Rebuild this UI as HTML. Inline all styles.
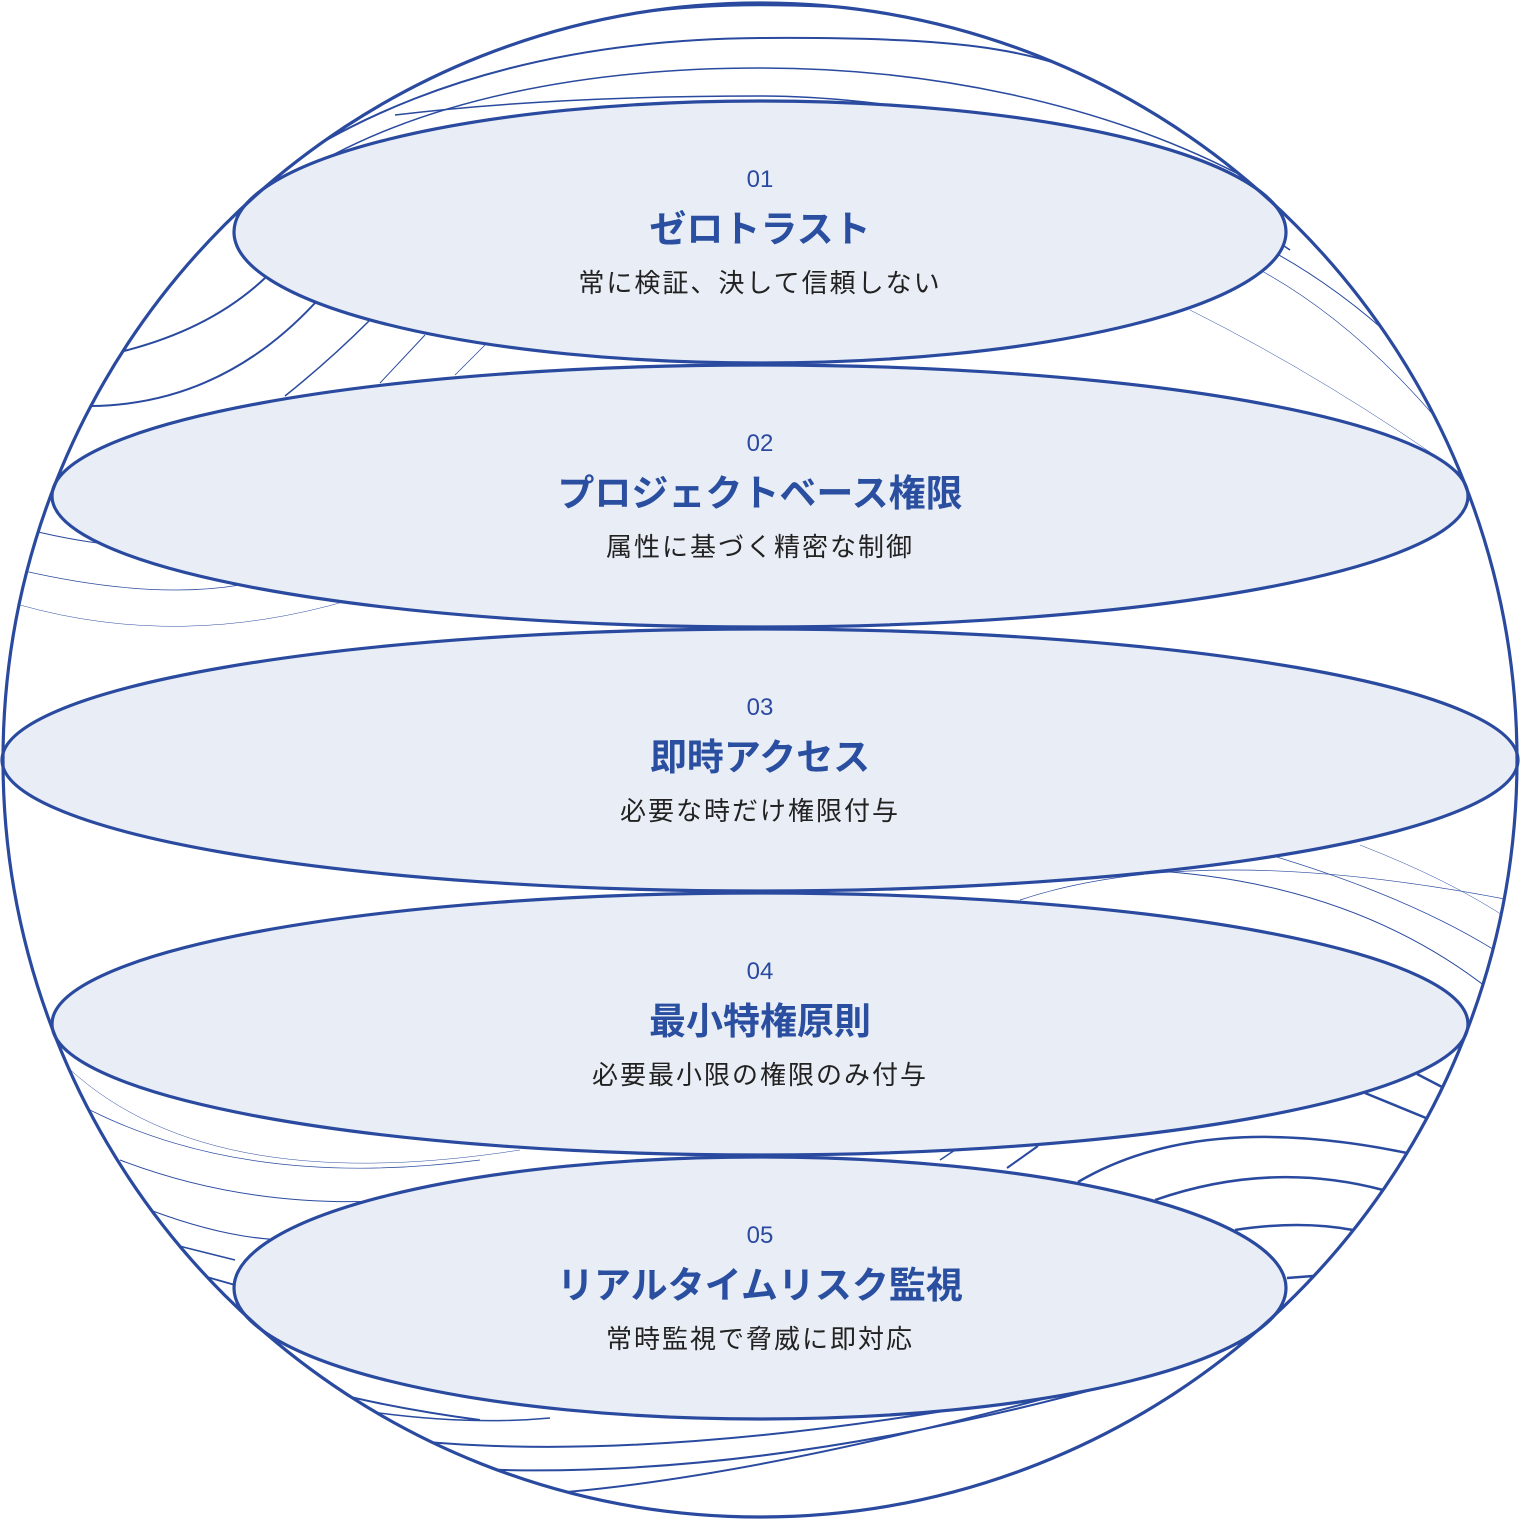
<!DOCTYPE html>
<html><head><meta charset="utf-8"><style>
html,body{margin:0;padding:0;background:#fff;}
svg{display:block}
text{font-family:"Liberation Sans","Noto Sans CJK JP",sans-serif;text-anchor:middle}
.n{font-size:24px;fill:#2a4a9f}
.t{font-size:37px;font-weight:bold;fill:#2a4fa0}
.s{font-size:26px;fill:#222;letter-spacing:2px}
</style></head><body>
<svg width="1520" height="1520" viewBox="0 0 1520 1520">
<defs><clipPath id="c"><circle cx="760" cy="760" r="757"/></clipPath></defs>
<g clip-path="url(#c)" fill="none" stroke="#2a4a9f">
<path d="M235,210 C380,60 560,5 760,5 S1100,40 1200,110" stroke-width="2.5"/>
<path d="M160,270 C300,120 500,40 760,38 S1050,60 1130,92" stroke-width="2"/>
<path d="M290,180 C420,95 600,68 760,68 S1100,100 1250,180" stroke-width="1.5"/>
<path d="M395,115 C520,100 650,96 760,96 S1100,120 1290,250" stroke-width="1.5"/>
<path d="M120,352 Q210,330 265,278" stroke-width="2"/>
<path d="M90,406 Q220,405 315,303" stroke-width="2"/>
<path d="M285,396 Q330,360 370,320" stroke-width="1.5"/>
<path d="M380,383 L425,335" stroke-width="1"/>
<path d="M455,375 L485,345" stroke-width="0.8"/>
<path d="M1270,250 Q1380,310 1470,420" stroke-width="1"/>
<path d="M1260,270 Q1370,330 1470,460" stroke-width="0.7"/>
<path d="M1190,310 Q1330,380 1470,480" stroke-width="0.5"/>
<path d="M30,530 Q150,560 260,540" stroke-width="1"/>
<path d="M20,570 Q150,600 240,585" stroke-width="0.7"/>
<path d="M20,605 Q180,650 350,600" stroke-width="0.5"/>
<path d="M1270,855 Q1420,900 1510,960" stroke-width="0.8"/>
<path d="M1140,870 Q1350,880 1490,990" stroke-width="1"/>
<path d="M1020,900 Q1200,840 1510,900" stroke-width="0.7"/>
<path d="M1360,845 Q1450,880 1510,920" stroke-width="0.5"/>
<path d="M1078,1182 Q1200,1110 1407,1153" stroke-width="2.5"/>
<path d="M1155,1200 Q1270,1160 1383,1190" stroke-width="2.5"/>
<path d="M1235,1230 Q1300,1220 1353,1230" stroke-width="2.5"/>
<path d="M1287,1278 L1313,1276" stroke-width="2.5"/>
<path d="M1365,1093 L1426,1118" stroke-width="2.5"/>
<path d="M1417,1074 L1442,1087" stroke-width="2.5"/>
<path d="M1007,1168 L1038,1146" stroke-width="2"/>
<path d="M940,1160 L955,1150" stroke-width="1.5"/>
<path d="M60,1060 Q200,1200 520,1150" stroke-width="0.5"/>
<path d="M90,1110 Q250,1190 480,1160" stroke-width="0.7"/>
<path d="M120,1160 Q250,1210 400,1200" stroke-width="1"/>
<path d="M150,1210 Q230,1240 290,1240" stroke-width="1.2"/>
<path d="M175,1245 L235,1260" stroke-width="1.5"/>
<path d="M200,1275 L235,1285" stroke-width="1.8"/>
<path d="M227,1360 Q330,1400 480,1420" stroke-width="2"/>
<path d="M247,1388 Q420,1430 550,1418" stroke-width="1.5"/>
<path d="M273,1417 Q520,1480 950,1410" stroke-width="2"/>
<path d="M307,1452 Q650,1510 1110,1385" stroke-width="2"/>
<path d="M363,1490 Q620,1530 1250,1340" stroke-width="2"/>
</g>
<g fill="#e9eef6" stroke="#2a4a9f" stroke-width="3.2">
<ellipse cx="760" cy="1288" rx="526" ry="131"/>
<ellipse cx="760" cy="1024" rx="708" ry="131"/>
<ellipse cx="760" cy="760" rx="758" ry="131"/>
<ellipse cx="760" cy="496" rx="708" ry="131"/>
<ellipse cx="760" cy="232" rx="526" ry="131"/>
</g>
<circle cx="760" cy="760" r="757" fill="none" stroke="#2a4a9f" stroke-width="3.2"/>
<text class="n" x="760" y="187">01</text>
<text class="t" x="760" y="242">ゼロトラスト</text>
<text class="s" x="760" y="292">常に検証、決して信頼しない</text>
<text class="n" x="760" y="451">02</text>
<text class="t" x="760" y="506">プロジェクトベース権限</text>
<text class="s" x="760" y="556">属性に基づく精密な制御</text>
<text class="n" x="760" y="715">03</text>
<text class="t" x="760" y="770">即時アクセス</text>
<text class="s" x="760" y="820">必要な時だけ権限付与</text>
<text class="n" x="760" y="979">04</text>
<text class="t" x="760" y="1034">最小特権原則</text>
<text class="s" x="760" y="1084">必要最小限の権限のみ付与</text>
<text class="n" x="760" y="1243">05</text>
<text class="t" x="760" y="1298">リアルタイムリスク監視</text>
<text class="s" x="760" y="1348">常時監視で脅威に即対応</text>
</svg>
</body></html>
